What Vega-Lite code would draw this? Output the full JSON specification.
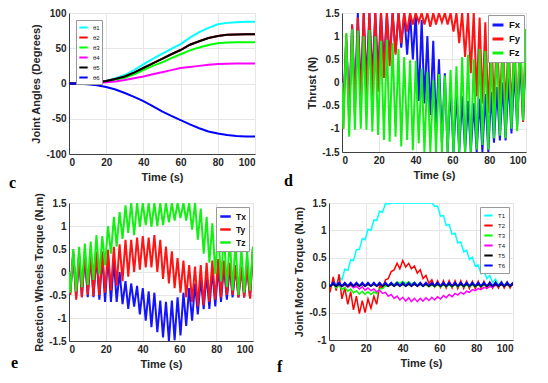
{
"$schema": "https://vega.github.io/schema/vega-lite/v6.json",
"padding": {"left": 8, "top": 7, "right": 0, "bottom": 0},
"config": {
  "font": "Liberation Sans",
  "view": {"stroke": "#d4d4d4"},
  "axis": {"labelFontWeight": "bold", "labelFontSize": 10, "labelColor": "#262626", "titleFontWeight": "bold", "titleFontSize": 11, "titleColor": "#262626", "ticks": false, "labelPadding": 3, "titlePadding": 4, "gridColor": "#e6e6e6", "domainColor": "#404040"},
  "legend": {"title": null, "symbolType": "stroke", "strokeColor": "#999", "fillColor": "white", "padding": 3, "symbolStrokeWidth": 2, "labelColor": "#111"},
  "title": {"font": "Liberation Serif", "fontSize": 16, "fontWeight": "bold", "color": "#000", "orient": "bottom", "anchor": "start", "frame": "group"}
},
"datasets": {
  "c": [
    {"t":0,"θ1":0,"θ2":0,"θ3":0,"θ4":0,"θ5":0,"θ6":0},
    {"t":5,"θ1":0.1,"θ2":0.1,"θ3":0.1,"θ4":0.05,"θ5":0.1,"θ6":-0.2},
    {"t":10,"θ1":0.7,"θ2":0.6,"θ3":0.5,"θ4":0.3,"θ5":0.6,"θ6":-1},
    {"t":15,"θ1":2,"θ2":1.8,"θ3":1.5,"θ4":0.8,"θ5":1.8,"θ6":-2.5},
    {"t":20,"θ1":4,"θ2":3.5,"θ3":3,"θ4":1.8,"θ5":3.5,"θ6":-5},
    {"t":25,"θ1":7.5,"θ2":6.5,"θ3":5.5,"θ4":3,"θ5":6.5,"θ6":-8.5},
    {"t":30,"θ1":12,"θ2":10,"θ3":8,"θ4":5,"θ5":10,"θ6":-13.5},
    {"t":35,"θ1":19,"θ2":15.5,"θ3":13,"θ4":7.5,"θ5":15.5,"θ6":-19},
    {"t":40,"θ1":27,"θ2":22,"θ3":19,"θ4":10,"θ5":22,"θ6":-25},
    {"t":45,"θ1":35,"θ2":28.5,"θ3":25,"θ4":13,"θ5":28.5,"θ6":-32},
    {"t":50,"θ1":42,"θ2":35,"θ3":30,"θ4":16,"θ5":35,"θ6":-39.5},
    {"t":55,"θ1":49,"θ2":41.5,"θ3":36,"θ4":19,"θ5":41.5,"θ6":-46},
    {"t":60,"θ1":56,"θ2":47.5,"θ3":41.5,"θ4":22,"θ5":47.5,"θ6":-52},
    {"t":65,"θ1":65,"θ2":55,"θ3":47,"θ4":23.5,"θ5":55,"θ6":-58},
    {"t":70,"θ1":73,"θ2":60,"θ3":51,"θ4":25,"θ5":60,"θ6":-63.5},
    {"t":75,"θ1":79,"θ2":64.5,"θ3":54.5,"θ4":26.5,"θ5":64.5,"θ6":-68},
    {"t":80,"θ1":84,"θ2":67.5,"θ3":57,"θ4":27.5,"θ5":67.5,"θ6":-71},
    {"t":85,"θ1":86,"θ2":69,"θ3":58,"θ4":28,"θ5":69,"θ6":-73},
    {"t":90,"θ1":87,"θ2":69.5,"θ3":58.5,"θ4":28.3,"θ5":69.5,"θ6":-74.5},
    {"t":95,"θ1":87.5,"θ2":69.7,"θ3":58.5,"θ4":28.5,"θ5":69.7,"θ6":-75},
    {"t":100,"θ1":87.5,"θ2":69.8,"θ3":58.5,"θ4":28.5,"θ5":69.8,"θ6":-75}
  ],
  "d": [
    {"t":0,"Fx":0,"Fy":0,"Fz":0},
    {"t":0.7,"Fx":-0.5,"Fy":-1,"Fz":-1},
    {"t":2.3,"Fx":0.9,"Fy":1.05,"Fz":1.07},
    {"t":3.9,"Fx":-0.6,"Fy":-0.85,"Fz":-1.17},
    {"t":5.5,"Fx":1.25,"Fy":1.25,"Fz":1.15},
    {"t":7,"Fx":-0.4,"Fy":-0.7,"Fz":-1.02},
    {"t":8.6,"Fx":1.5,"Fy":1.4,"Fz":1.12},
    {"t":10.2,"Fx":-0.2,"Fy":-0.5,"Fz":-1},
    {"t":11.8,"Fx":1.5,"Fy":1.5,"Fz":1},
    {"t":13.3,"Fx":0,"Fy":-0.4,"Fz":-1.02},
    {"t":14.9,"Fx":1.5,"Fy":1.5,"Fz":1.13},
    {"t":16.5,"Fx":0.1,"Fy":-0.3,"Fz":-1.06},
    {"t":18.1,"Fx":1.5,"Fy":1.5,"Fz":1},
    {"t":19.6,"Fx":0.2,"Fy":-0.2,"Fz":-1.13},
    {"t":21.2,"Fx":1.5,"Fy":1.5,"Fz":0.9},
    {"t":22.8,"Fx":0.4,"Fy":0.1,"Fz":-1.24},
    {"t":24.4,"Fx":1.5,"Fy":1.5,"Fz":0.92},
    {"t":25.9,"Fx":0.5,"Fy":0.35,"Fz":-1.28},
    {"t":27.5,"Fx":1.5,"Fy":1.5,"Fz":0.85},
    {"t":29.1,"Fx":0.65,"Fy":0.6,"Fz":-1.17},
    {"t":30.7,"Fx":1.5,"Fy":1.5,"Fz":0.72},
    {"t":32.2,"Fx":0.75,"Fy":0.85,"Fz":-1.38},
    {"t":33.8,"Fx":1.5,"Fy":1.5,"Fz":0.55},
    {"t":35.4,"Fx":0.6,"Fy":1.1,"Fz":-1.24},
    {"t":37,"Fx":1.5,"Fy":1.5,"Fz":0.48},
    {"t":38.5,"Fx":0.5,"Fy":1.25,"Fz":-1.46},
    {"t":40.1,"Fx":1.5,"Fy":1.5,"Fz":0.47},
    {"t":41.7,"Fx":-0.4,"Fy":1.3,"Fz":-1.31},
    {"t":43.3,"Fx":1.35,"Fy":1.5,"Fz":0.3},
    {"t":44.8,"Fx":-0.45,"Fy":1.25,"Fz":-1.5},
    {"t":46.4,"Fx":1,"Fy":1.5,"Fz":0.22},
    {"t":48,"Fx":-0.7,"Fy":1.2,"Fz":-1.5},
    {"t":49.6,"Fx":0.9,"Fy":1.5,"Fz":0.05},
    {"t":51.1,"Fx":-1,"Fy":1.25,"Fz":-1.5},
    {"t":52.7,"Fx":0.5,"Fy":1.5,"Fz":0.18},
    {"t":54.3,"Fx":-1.3,"Fy":1.3,"Fz":-1.5},
    {"t":55.9,"Fx":0.2,"Fy":1.5,"Fz":0.15},
    {"t":57.4,"Fx":-1.5,"Fy":1.25,"Fz":-1.5},
    {"t":59,"Fx":-0.1,"Fy":1.5,"Fz":0.27},
    {"t":60.6,"Fx":-1.5,"Fy":1.1,"Fz":-1.5},
    {"t":62.2,"Fx":-0.2,"Fy":1.5,"Fz":0.35},
    {"t":63.7,"Fx":-1.5,"Fy":0.85,"Fz":-1.5},
    {"t":65.3,"Fx":-0.3,"Fy":1.5,"Fz":0.55},
    {"t":66.9,"Fx":-1.5,"Fy":0.55,"Fz":-1.5},
    {"t":68.5,"Fx":-0.4,"Fy":1.5,"Fz":0.6},
    {"t":70,"Fx":-1.5,"Fy":0.2,"Fz":-1.5},
    {"t":71.6,"Fx":-0.45,"Fy":1.5,"Fz":0.5},
    {"t":73.2,"Fx":-1.5,"Fy":-0.3,"Fz":-1.45},
    {"t":74.8,"Fx":-0.35,"Fy":1.4,"Fz":0.72},
    {"t":76.3,"Fx":-1.5,"Fy":-0.45,"Fz":-1.35},
    {"t":77.9,"Fx":-0.25,"Fy":1.3,"Fz":0.68},
    {"t":79.5,"Fx":-1.5,"Fy":-0.65,"Fz":-1.45},
    {"t":81.1,"Fx":-0.2,"Fy":1.15,"Fz":0.62},
    {"t":82.6,"Fx":-1.3,"Fy":-0.55,"Fz":-1.2},
    {"t":84.2,"Fx":-0.1,"Fy":1.05,"Fz":0.78},
    {"t":85.8,"Fx":-1.25,"Fy":-0.5,"Fz":-1.15},
    {"t":87.4,"Fx":0,"Fy":0.95,"Fz":0.85},
    {"t":88.9,"Fx":-1.25,"Fy":-0.55,"Fz":-1.2},
    {"t":90.5,"Fx":0.1,"Fy":0.9,"Fz":0.75},
    {"t":92.1,"Fx":-1.1,"Fy":-0.6,"Fz":-1},
    {"t":93.7,"Fx":0.3,"Fy":0.95,"Fz":0.98},
    {"t":95.2,"Fx":-0.95,"Fy":-0.75,"Fz":-1.05},
    {"t":96.8,"Fx":0.5,"Fy":1.05,"Fz":1.1},
    {"t":98.4,"Fx":-0.85,"Fy":-0.85,"Fz":-0.82},
    {"t":100,"Fx":0.8,"Fy":1.15,"Fz":1.15}
  ],
  "e": [
    {"t":0,"Tx":0,"Ty":0,"Tz":0},
    {"t":0.7,"Tx":-0.45,"Ty":-0.5,"Tz":-0.45},
    {"t":2.3,"Tx":0.4,"Ty":0.45,"Tz":0.5},
    {"t":3.9,"Tx":-0.55,"Ty":-0.6,"Tz":-0.42},
    {"t":5.5,"Tx":0.35,"Ty":0.4,"Tz":0.55},
    {"t":7,"Tx":-0.55,"Ty":-0.55,"Tz":-0.33},
    {"t":8.6,"Tx":0.35,"Ty":0.45,"Tz":0.62},
    {"t":10.2,"Tx":-0.55,"Ty":-0.5,"Tz":-0.28},
    {"t":11.8,"Tx":0.35,"Ty":0.4,"Tz":0.66},
    {"t":13.3,"Tx":-0.55,"Ty":-0.52,"Tz":-0.17},
    {"t":14.9,"Tx":0.35,"Ty":0.45,"Tz":0.8},
    {"t":16.5,"Tx":-0.6,"Ty":-0.5,"Tz":-0.05},
    {"t":18.1,"Tx":0.35,"Ty":0.45,"Tz":0.78},
    {"t":19.6,"Tx":-0.65,"Ty":-0.45,"Tz":0.15},
    {"t":21.2,"Tx":0.35,"Ty":0.48,"Tz":1},
    {"t":22.8,"Tx":-0.65,"Ty":-0.4,"Tz":0.4},
    {"t":24.4,"Tx":0.25,"Ty":0.55,"Tz":1.2},
    {"t":25.9,"Tx":-0.65,"Ty":-0.3,"Tz":0.55},
    {"t":27.5,"Tx":0,"Ty":0.6,"Tz":1.3},
    {"t":29.1,"Tx":-0.7,"Ty":-0.2,"Tz":0.72},
    {"t":30.7,"Tx":-0.2,"Ty":0.7,"Tz":1.45},
    {"t":32.2,"Tx":-0.8,"Ty":-0.1,"Tz":0.85},
    {"t":33.8,"Tx":-0.25,"Ty":0.7,"Tz":1.5},
    {"t":35.4,"Tx":-0.75,"Ty":0,"Tz":0.8},
    {"t":37,"Tx":-0.3,"Ty":0.75,"Tz":1.5},
    {"t":38.5,"Tx":-0.92,"Ty":0.05,"Tz":0.98},
    {"t":40.1,"Tx":-0.35,"Ty":0.78,"Tz":1.5},
    {"t":41.7,"Tx":-1.06,"Ty":0.1,"Tz":1.02},
    {"t":43.3,"Tx":-0.42,"Ty":0.75,"Tz":1.5},
    {"t":44.8,"Tx":-1.2,"Ty":0.1,"Tz":0.98},
    {"t":46.4,"Tx":-0.45,"Ty":0.8,"Tz":1.5},
    {"t":48,"Tx":-1.31,"Ty":0,"Tz":1},
    {"t":49.6,"Tx":-0.62,"Ty":0.7,"Tz":1.5},
    {"t":51.1,"Tx":-1.42,"Ty":-0.15,"Tz":1.02},
    {"t":52.7,"Tx":-0.65,"Ty":0.55,"Tz":1.5},
    {"t":54.3,"Tx":-1.5,"Ty":-0.25,"Tz":1.08},
    {"t":55.9,"Tx":-0.62,"Ty":0.45,"Tz":1.5},
    {"t":57.4,"Tx":-1.48,"Ty":-0.35,"Tz":1.12},
    {"t":59,"Tx":-0.55,"Ty":0.3,"Tz":1.5},
    {"t":60.6,"Tx":-1.38,"Ty":-0.45,"Tz":1.17},
    {"t":62.2,"Tx":-0.45,"Ty":0.25,"Tz":1.5},
    {"t":63.7,"Tx":-1.17,"Ty":-0.55,"Tz":1.12},
    {"t":65.3,"Tx":-0.35,"Ty":0.15,"Tz":1.5},
    {"t":66.9,"Tx":-1.06,"Ty":-0.65,"Tz":0.92},
    {"t":68.5,"Tx":-0.25,"Ty":0.12,"Tz":1.5},
    {"t":70,"Tx":-0.92,"Ty":-0.75,"Tz":0.7},
    {"t":71.6,"Tx":-0.15,"Ty":0.15,"Tz":1.38},
    {"t":73.2,"Tx":-0.81,"Ty":-0.72,"Tz":0.4},
    {"t":74.8,"Tx":-0.05,"Ty":0.2,"Tz":1.2},
    {"t":76.3,"Tx":-0.8,"Ty":-0.65,"Tz":0.2},
    {"t":77.9,"Tx":0.05,"Ty":0.25,"Tz":1.06},
    {"t":79.5,"Tx":-0.75,"Ty":-0.6,"Tz":-0.05},
    {"t":81.1,"Tx":0.1,"Ty":0.28,"Tz":0.95},
    {"t":82.6,"Tx":-0.65,"Ty":-0.55,"Tz":-0.2},
    {"t":84.2,"Tx":0.12,"Ty":0.25,"Tz":0.84},
    {"t":85.8,"Tx":-0.6,"Ty":-0.5,"Tz":-0.33},
    {"t":87.4,"Tx":0.12,"Ty":0.2,"Tz":0.75},
    {"t":88.9,"Tx":-0.55,"Ty":-0.5,"Tz":-0.4},
    {"t":90.5,"Tx":0.1,"Ty":0.15,"Tz":0.65},
    {"t":92.1,"Tx":-0.55,"Ty":-0.55,"Tz":-0.5},
    {"t":93.7,"Tx":0.1,"Ty":0.12,"Tz":0.52},
    {"t":95.2,"Tx":-0.55,"Ty":-0.55,"Tz":-0.45},
    {"t":96.8,"Tx":0.12,"Ty":0.15,"Tz":0.45},
    {"t":98.4,"Tx":-0.55,"Ty":-0.58,"Tz":-0.4},
    {"t":100,"Tx":0.5,"Ty":0.55,"Tz":0.55}
  ],
  "f": [
    {"t":0,"T1":0,"T2":-0.05,"T3":0,"T4":0,"T5":0,"T6":0},
    {"t":0.7,"T1":-0.02,"T2":-0.1,"T3":-0.02,"T4":-0.02,"T5":-0.02,"T6":-0.01},
    {"t":2.3,"T1":0.08,"T2":0.15,"T3":0.02,"T4":0.02,"T5":0.02,"T6":0.05},
    {"t":3.9,"T1":0.01,"T2":-0.1,"T3":-0.05,"T4":-0.02,"T5":-0.02,"T6":-0.01},
    {"t":5.5,"T1":0.15,"T2":0.2,"T3":0,"T4":0.02,"T5":0.02,"T6":0.05},
    {"t":7,"T1":0.1,"T2":-0.25,"T3":-0.08,"T4":-0.03,"T5":-0.02,"T6":-0.01},
    {"t":8.6,"T1":0.29,"T2":-0.05,"T3":-0.04,"T4":0.01,"T5":0.02,"T6":0.05},
    {"t":10.2,"T1":0.27,"T2":-0.35,"T3":-0.11,"T4":-0.04,"T5":-0.02,"T6":-0.01},
    {"t":11.8,"T1":0.46,"T2":-0.12,"T3":-0.07,"T4":0,"T5":0.02,"T6":0.05},
    {"t":13.3,"T1":0.45,"T2":-0.45,"T3":-0.14,"T4":-0.05,"T5":-0.02,"T6":-0.01},
    {"t":14.9,"T1":0.65,"T2":-0.2,"T3":-0.1,"T4":-0.02,"T5":0.02,"T6":0.05},
    {"t":16.5,"T1":0.65,"T2":-0.52,"T3":-0.16,"T4":-0.07,"T5":-0.02,"T6":-0.01},
    {"t":18.1,"T1":0.85,"T2":-0.28,"T3":-0.11,"T4":-0.03,"T5":0.02,"T6":0.05},
    {"t":19.6,"T1":0.83,"T2":-0.5,"T3":-0.17,"T4":-0.09,"T5":-0.02,"T6":-0.01},
    {"t":21.2,"T1":1.02,"T2":-0.25,"T3":-0.12,"T4":-0.05,"T5":0.02,"T6":0.05},
    {"t":22.8,"T1":1,"T2":-0.42,"T3":-0.17,"T4":-0.1,"T5":-0.02,"T6":-0.01},
    {"t":24.4,"T1":1.19,"T2":-0.2,"T3":-0.12,"T4":-0.07,"T5":0.02,"T6":0.05},
    {"t":25.9,"T1":1.18,"T2":-0.35,"T3":-0.15,"T4":-0.12,"T5":-0.02,"T6":-0.01},
    {"t":27.5,"T1":1.35,"T2":-0.02,"T3":-0.07,"T4":-0.09,"T5":0.02,"T6":0.05},
    {"t":29.1,"T1":1.33,"T2":-0.05,"T3":-0.06,"T4":-0.15,"T5":-0.02,"T6":-0.01},
    {"t":30.7,"T1":1.49,"T2":0.1,"T3":-0.01,"T4":-0.13,"T5":0.02,"T6":0.05},
    {"t":32.2,"T1":1.48,"T2":0.12,"T3":-0.02,"T4":-0.2,"T5":-0.02,"T6":-0.01},
    {"t":33.8,"T1":1.5,"T2":0.25,"T3":0.03,"T4":-0.17,"T5":0.02,"T6":0.05},
    {"t":35.4,"T1":1.5,"T2":0.28,"T3":0.01,"T4":-0.24,"T5":-0.02,"T6":-0.01},
    {"t":37,"T1":1.5,"T2":0.4,"T3":0.06,"T4":-0.2,"T5":0.02,"T6":0.05},
    {"t":38.5,"T1":1.5,"T2":0.3,"T3":0.03,"T4":-0.27,"T5":-0.02,"T6":-0.01},
    {"t":40.1,"T1":1.5,"T2":0.45,"T3":0.07,"T4":-0.22,"T5":0.02,"T6":0.05},
    {"t":41.7,"T1":1.5,"T2":0.33,"T3":0.03,"T4":-0.29,"T5":-0.02,"T6":-0.01},
    {"t":43.3,"T1":1.5,"T2":0.4,"T3":0.06,"T4":-0.23,"T5":0.02,"T6":0.05},
    {"t":44.8,"T1":1.5,"T2":0.3,"T3":0.02,"T4":-0.3,"T5":-0.02,"T6":-0.01},
    {"t":46.4,"T1":1.5,"T2":0.35,"T3":0.05,"T4":-0.24,"T5":0.02,"T6":0.05},
    {"t":48,"T1":1.5,"T2":0.22,"T3":0,"T4":-0.3,"T5":-0.02,"T6":-0.01},
    {"t":49.6,"T1":1.5,"T2":0.28,"T3":0.03,"T4":-0.24,"T5":0.02,"T6":0.05},
    {"t":51.1,"T1":1.5,"T2":0.12,"T3":-0.02,"T4":-0.29,"T5":-0.02,"T6":-0.01},
    {"t":52.7,"T1":1.5,"T2":0.18,"T3":0.02,"T4":-0.23,"T5":0.02,"T6":0.05},
    {"t":54.3,"T1":1.5,"T2":0.03,"T3":-0.03,"T4":-0.28,"T5":-0.02,"T6":-0.01},
    {"t":55.9,"T1":1.5,"T2":0.1,"T3":0.01,"T4":-0.22,"T5":0.02,"T6":0.05},
    {"t":57.4,"T1":1.44,"T2":-0.03,"T3":-0.03,"T4":-0.27,"T5":-0.02,"T6":-0.01},
    {"t":59,"T1":1.44,"T2":0.08,"T3":0.01,"T4":-0.21,"T5":0.02,"T6":0.05},
    {"t":60.6,"T1":1.26,"T2":-0.04,"T3":-0.03,"T4":-0.25,"T5":-0.02,"T6":-0.01},
    {"t":62.2,"T1":1.27,"T2":0.08,"T3":0.01,"T4":-0.19,"T5":0.02,"T6":0.05},
    {"t":63.7,"T1":1.09,"T2":-0.05,"T3":-0.03,"T4":-0.23,"T5":-0.02,"T6":-0.01},
    {"t":65.3,"T1":1.11,"T2":0.08,"T3":0.01,"T4":-0.17,"T5":0.02,"T6":0.05},
    {"t":66.9,"T1":0.93,"T2":-0.05,"T3":-0.03,"T4":-0.21,"T5":-0.02,"T6":-0.01},
    {"t":68.5,"T1":0.95,"T2":0.08,"T3":0.01,"T4":-0.15,"T5":0.02,"T6":0.05},
    {"t":70,"T1":0.77,"T2":-0.06,"T3":-0.03,"T4":-0.18,"T5":-0.02,"T6":-0.01},
    {"t":71.6,"T1":0.79,"T2":0.08,"T3":0.01,"T4":-0.13,"T5":0.02,"T6":0.05},
    {"t":73.2,"T1":0.61,"T2":-0.06,"T3":-0.03,"T4":-0.16,"T5":-0.02,"T6":-0.01},
    {"t":74.8,"T1":0.64,"T2":0.07,"T3":0.01,"T4":-0.11,"T5":0.02,"T6":0.05},
    {"t":76.3,"T1":0.47,"T2":-0.06,"T3":-0.03,"T4":-0.13,"T5":-0.02,"T6":-0.01},
    {"t":77.9,"T1":0.51,"T2":0.07,"T3":0.01,"T4":-0.08,"T5":0.02,"T6":0.05},
    {"t":79.5,"T1":0.35,"T2":-0.06,"T3":-0.03,"T4":-0.1,"T5":-0.02,"T6":-0.01},
    {"t":81.1,"T1":0.37,"T2":0.07,"T3":0.01,"T4":-0.06,"T5":0.02,"T6":0.05},
    {"t":82.6,"T1":0.21,"T2":-0.06,"T3":-0.03,"T4":-0.08,"T5":-0.02,"T6":-0.01},
    {"t":84.2,"T1":0.26,"T2":0.07,"T3":0.01,"T4":-0.04,"T5":0.02,"T6":0.05},
    {"t":85.8,"T1":0.12,"T2":-0.05,"T3":-0.02,"T4":-0.06,"T5":-0.02,"T6":-0.01},
    {"t":87.4,"T1":0.18,"T2":0.06,"T3":0.01,"T4":-0.02,"T5":0.02,"T6":0.05},
    {"t":88.9,"T1":0.05,"T2":-0.05,"T3":-0.02,"T4":-0.04,"T5":-0.02,"T6":-0.01},
    {"t":90.5,"T1":0.11,"T2":0.06,"T3":0.01,"T4":0,"T5":0.02,"T6":0.05},
    {"t":92.1,"T1":0,"T2":-0.05,"T3":-0.02,"T4":-0.02,"T5":-0.02,"T6":-0.01},
    {"t":93.7,"T1":0.07,"T2":0.06,"T3":0.01,"T4":0.01,"T5":0.02,"T6":0.05},
    {"t":95.2,"T1":-0.02,"T2":-0.05,"T3":-0.02,"T4":-0.01,"T5":-0.02,"T6":-0.01},
    {"t":96.8,"T1":0.06,"T2":0.06,"T3":0.01,"T4":0.01,"T5":0.02,"T6":0.05},
    {"t":98.4,"T1":-0.02,"T2":-0.05,"T3":-0.02,"T4":-0.01,"T5":-0.02,"T6":-0.01},
    {"t":100,"T1":0.06,"T2":0.05,"T3":0.01,"T4":0.01,"T5":0.02,"T6":0.05}
  ]
},
"resolve": {"scale": {"color": "independent"}, "legend": {"color": "independent"}},
"spacing": 0,
"vconcat": [
  {
    "spacing": 27,
    "resolve": {"scale": {"color": "independent"}, "legend": {"color": "independent"}},
    "hconcat": [
      {
        "width": 186, "height": 141,
        "data": {"name": "c"},
        "transform": [{"fold": ["θ1","θ2","θ3","θ4","θ5","θ6"], "as": ["s","v"]}],
        "title": {"text": "c", "dx": -60, "dy": -11},
        "mark": {"type": "line", "strokeWidth": 2, "clip": true},
        "encoding": {
          "x": {"field": "t", "type": "quantitative", "scale": {"domain": [0,100], "nice": false}, "axis": {"values": [0,20,40,60,80,100], "title": "Time (s)"}},
          "y": {"field": "v", "type": "quantitative", "scale": {"domain": [-100,100], "nice": false}, "axis": {"values": [-100,-50,0,50,100], "title": "Joint Angles (Degrees)", "labelExpr": "'' + datum.value"}},
          "color": {"field": "s", "type": "nominal", "scale": {"domain": ["θ1","θ2","θ3","θ4","θ5","θ6"], "range": ["#00FFFF","#FF0000","#00FF00","#FF00FF","#000000","#0000FF"]},
            "legend": {"orient": "top-left", "offset": 7, "labelFontSize": 6, "symbolSize": 70, "rowPadding": 0, "padding": 2}}
        }
      },
      {
        "width": 184, "height": 139,
        "data": {"name": "d"},
        "transform": [{"fold": ["Fx","Fy","Fz"], "as": ["s","v"]}],
        "title": {"text": "d", "dx": -58, "dy": -11},
        "mark": {"type": "line", "strokeWidth": 2, "clip": true},
        "encoding": {
          "x": {"field": "t", "type": "quantitative", "scale": {"domain": [0,100], "nice": false}, "axis": {"values": [0,20,40,60,80,100], "title": "Time (s)"}},
          "y": {"field": "v", "type": "quantitative", "scale": {"domain": [-1.5,1.5], "nice": false}, "axis": {"values": [-1.5,-1,-0.5,0,0.5,1,1.5], "title": "Thrust (N)", "labelExpr": "'' + datum.value"}},
          "color": {"field": "s", "type": "nominal", "scale": {"domain": ["Fx","Fy","Fz"], "range": ["#1414FF","#FF1414","#14F014"]},
            "legend": {"orient": "top-right", "offset": 2, "labelFontSize": 9.5, "labelFontWeight": "bold", "symbolSize": 120, "symbolStrokeWidth": 3, "rowPadding": 1}}
        }
      }
    ]
  },
  {
    "spacing": 22,
    "resolve": {"scale": {"color": "independent"}, "legend": {"color": "independent"}},
    "hconcat": [
      {
        "width": 184, "height": 138,
        "data": {"name": "e"},
        "transform": [{"fold": ["Tx","Ty","Tz"], "as": ["s","v"]}],
        "title": {"text": "e", "dx": -58, "dy": -18},
        "mark": {"type": "line", "strokeWidth": 2, "clip": true},
        "encoding": {
          "x": {"field": "t", "type": "quantitative", "scale": {"domain": [0,100], "nice": false}, "axis": {"values": [0,20,40,60,80,100], "title": "Time (s)"}},
          "y": {"field": "v", "type": "quantitative", "scale": {"domain": [-1.5,1.5], "nice": false}, "axis": {"values": [-1.5,-1,-0.5,0,0.5,1,1.5], "title": "Reaction Wheels Torque (N.m)", "labelExpr": "'' + datum.value"}},
          "color": {"field": "s", "type": "nominal", "scale": {"domain": ["Tx","Ty","Tz"], "range": ["#1414FF","#FF1414","#14F014"]},
            "legend": {"orient": "top-right", "offset": 4, "labelFontSize": 8.5, "labelFontWeight": "bold", "symbolSize": 110, "symbolStrokeWidth": 2.5, "rowPadding": 1}}
        }
      },
      {
        "width": 184, "height": 137,
        "data": {"name": "f"},
        "transform": [{"fold": ["T1","T2","T3","T4","T5","T6"], "as": ["s","v"]}],
        "title": {"text": "f", "dx": -52, "dy": -13},
        "mark": {"type": "line", "strokeWidth": 1.5, "clip": true},
        "encoding": {
          "x": {"field": "t", "type": "quantitative", "scale": {"domain": [0,100], "nice": false}, "axis": {"values": [0,20,40,60,80,100], "title": "Time (s)"}},
          "y": {"field": "v", "type": "quantitative", "scale": {"domain": [-1,1.5], "nice": false}, "axis": {"values": [-1,-0.5,0,0.5,1,1.5], "title": "Joint Motor Torque (N.m)", "labelExpr": "'' + datum.value"}},
          "color": {"field": "s", "type": "nominal", "scale": {"domain": ["T1","T2","T3","T4","T5","T6"], "range": ["#00FFFF","#FF0000","#00FF00","#FF00FF","#000000","#0000FF"]},
            "legend": {"orient": "top-right", "offset": 4, "labelFontSize": 6, "symbolSize": 70, "symbolStrokeWidth": 2, "rowPadding": 0, "padding": 3}}
        }
      }
    ]
  }
]
}
